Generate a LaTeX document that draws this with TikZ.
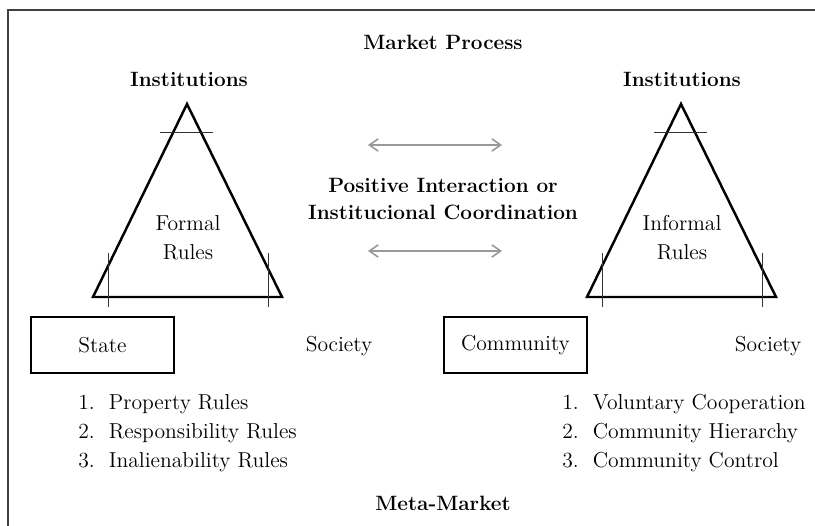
\documentclass[tikz,border=0pt]{standalone}
\usepackage{tikz}
\usetikzlibrary{arrows.meta,positioning}

\begin{document}
\begin{tikzpicture}[
    x=0.02cm, y=-0.02cm,
    txt/.style={font=\fontsize{12.3}{16.5}\selectfont, inner sep=0pt, align=center},
    head/.style={txt, font=\fontsize{11.8}{15.5}\selectfont\bfseries},
    box/.style={txt, draw, line width=0.6pt, minimum width=2.86cm, minimum height=1.12cm},
    item/.style={txt, anchor=west},
    tri/.style={line width=1.4pt, line join=miter},
    tick/.style={line width=0.55pt, black!80},
    arrow/.style={{Straight Barb[length=5pt,width=7pt]}-{Straight Barb[length=5pt,width=7pt]}, line width=0.9pt, black!40},
    frame/.style={line width=0.8pt, black!75}
]
\clip (0,0) rectangle (815,526);
\draw[frame] (8,10) rectangle (840,560);

% Headings
\node[head] (mp) at (443,42) {Market Process};
\node[head] (instl) at (189,79) {Institutions};
\node[head] (instr) at (682,79) {Institutions};
\node[head] (pos) at (443,199) {Positive Interaction or\\Institucional Coordination};
\node[head] (meta) at (443,503) {Meta-Market};

% Left triangle
\coordinate (lt) at (187,104);
\coordinate (lbl) at (93,297);
\coordinate (lbr) at (282,297);
\draw[tri] (lt) -- (lbl) -- (lbr) -- cycle;
\draw[tick] (160,132) -- (213,132);
\draw[tick] (108,253) -- (108,307);
\draw[tick] (268,253) -- (268,307);
\node[txt] (formal) at (188,238) {Formal\\Rules};

% Right triangle
\coordinate (rt) at (681,104);
\coordinate (rbl) at (587,297);
\coordinate (rbr) at (776,297);
\draw[tri] (rt) -- (rbl) -- (rbr) -- cycle;
\draw[tick] (654,132) -- (707,132);
\draw[tick] (602,253) -- (602,307);
\draw[tick] (762,253) -- (762,307);
\node[txt] (informal) at (682,238) {Informal\\Rules};

% Interaction arrows
\coordinate (a1l) at (368,145);
\coordinate (a1r) at (502,145);
\coordinate (a2l) at (368,251);
\coordinate (a2r) at (502,251);
\draw[arrow] (a1l) -- (a1r);
\draw[arrow] (a2l) -- (a2r);

% Boxes and society
\node[box] (state) at (102.5,345) {State};
\node[txt] (socl) at (339,346) {Society};
\node[box] (comm) at (515.5,345) {Community};
\node[txt] (socr) at (768,346) {Society};

% Lists
\node[item] (p1) at (78,404) {1.~~Property Rules};
\node[item] (p2) at (78,433) {2.~~Responsibility Rules};
\node[item] (p3) at (78,462) {3.~~Inalienability Rules};
\node[item] (c1) at (562,404) {1.~~Voluntary Cooperation};
\node[item] (c2) at (562,433) {2.~~Community Hierarchy};
\node[item] (c3) at (562,462) {3.~~Community Control};
\end{tikzpicture}
\end{document}
